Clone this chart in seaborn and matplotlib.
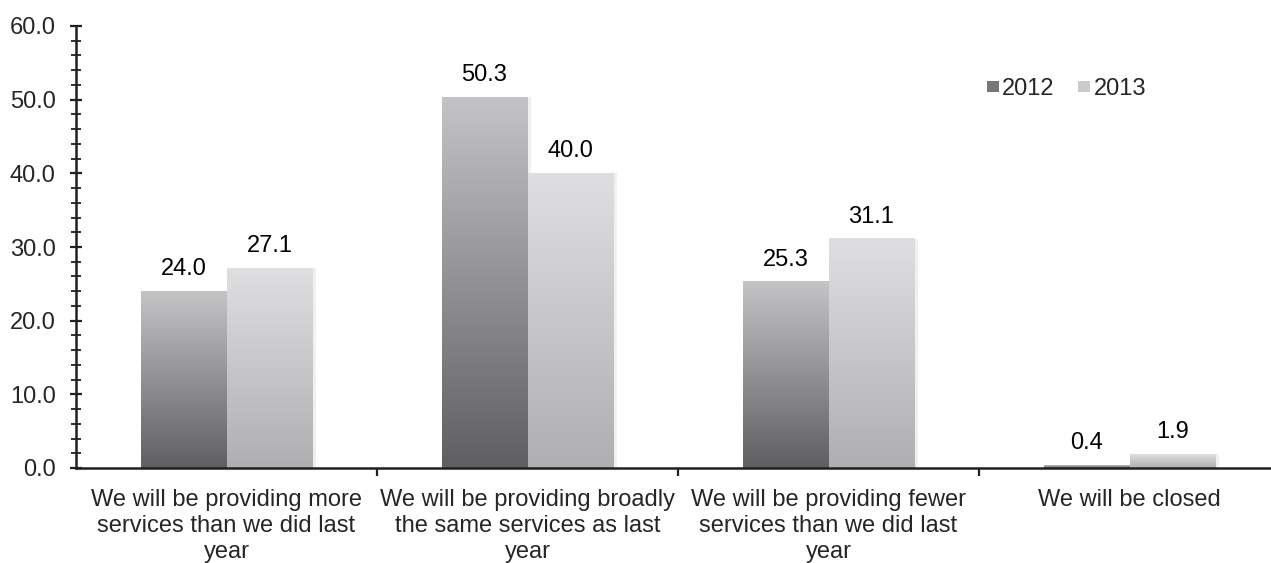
import numpy as np
import pandas as pd
import matplotlib
matplotlib.use("Agg")
import matplotlib.pyplot as plt
from matplotlib.colors import LinearSegmentedColormap
from matplotlib.patches import Patch
from matplotlib.ticker import MultipleLocator, FormatStrFormatter
import seaborn as sns

categories = [
    "We will be providing more\nservices than we did last\nyear",
    "We will be providing broadly\nthe same services as last\nyear",
    "We will be providing fewer\nservices than we did last\nyear",
    "We will be closed",
]
years = ["2012", "2013"]
values_2012 = [24.0, 50.3, 25.3, 0.4]
values_2013 = [27.1, 40.0, 31.1, 1.9]

df = pd.DataFrame({
    "Response": categories * 2,
    "Percent": values_2012 + values_2013,
    "Year": [years[0]] * len(categories) + [years[1]] * len(categories),
})

sns.set_style("white")
plt.rcParams["font.family"] = ["Liberation Sans", "DejaVu Sans"]

# bottom -> top colour ramps for each year
ramps = {
    "2012": ["#5f5f61", "#c4c4c6"],
    "2013": ["#afafb1", "#dfdfe1"],
}
flat = {"2012": "#77777a", "2013": "#cbcbcd"}

fig = plt.figure(figsize=(12.71, 5.63), dpi=100)
ax = fig.add_axes([76 / 1271, 95 / 563, 1204 / 1271, 442 / 563])

sns.barplot(data=df, x="Response", y="Percent", hue="Year",
            order=categories, hue_order=years, palette=flat,
            width=0.571, errorbar=None, legend=False, ax=ax,
            linewidth=0, saturation=1)

grad = np.linspace(0, 1, 256).reshape(-1, 1)
for year, container in zip(years, ax.containers):
    cmap = LinearSegmentedColormap.from_list("ramp_" + year, ramps[year])
    for bar in container:
        x0, w, h = bar.get_x(), bar.get_width(), bar.get_height()
        # soft shadow along the right edge
        ax.fill_between([x0 + w, x0 + w + 0.012], 0, h, color="#000000",
                        alpha=0.06, linewidth=0, zorder=1.5)
        ax.imshow(grad, extent=[x0, x0 + w, 0, h], origin="lower",
                  cmap=cmap, aspect="auto", zorder=2, interpolation="bicubic")
        bar.set_facecolor("none")
    ax.bar_label(container, fmt="%.1f", padding=8, fontsize=17, color="#000000")

ax.set_xlim(-0.5, 3.5)
ax.set_ylim(0, 60)
ax.set_xlabel("")
ax.set_ylabel("")

# y axis: majors every 10, minors every 2
ax.yaxis.set_major_locator(MultipleLocator(10))
ax.yaxis.set_minor_locator(MultipleLocator(2))
ax.yaxis.set_major_formatter(FormatStrFormatter("%.1f"))
ax.tick_params(axis="y", which="major", direction="inout", length=9,
               width=1.6, color="#231f20", labelsize=17, pad=10, left=True)
ax.tick_params(axis="y", which="minor", direction="inout", length=7,
               width=1.3, color="#231f20", left=True)

# x axis: labels at category centres, ticks at category boundaries
ax.set_xticks(range(len(categories)))
ax.set_xticklabels(categories, linespacing=1.25)
ax.set_xticks([0.5, 1.5, 2.5, 3.5], minor=True)
ax.tick_params(axis="x", which="major", length=0, labelsize=17, pad=15)
ax.tick_params(axis="x", which="minor", direction="out", length=6,
               width=1.6, color="#231f20", bottom=True)

for side in ["top", "right"]:
    ax.spines[side].set_visible(False)
for side in ["left", "bottom"]:
    ax.spines[side].set_color("#231f20")
    ax.spines[side].set_linewidth(1.8)
ax.spines["bottom"].set_zorder(3)
ax.grid(False)

handles = [Patch(facecolor=flat[y], edgecolor="none", label=y) for y in years]
fig.legend(handles=handles, loc="center left",
           bbox_to_anchor=(987 / 1271, 1 - 89 / 563), ncol=2, frameon=False,
           fontsize=17, handlelength=0.5, handleheight=0.38,
           handletextpad=0.15, columnspacing=1.0, borderaxespad=0,
           borderpad=0)

fig.savefig("out.png", dpi=100)
